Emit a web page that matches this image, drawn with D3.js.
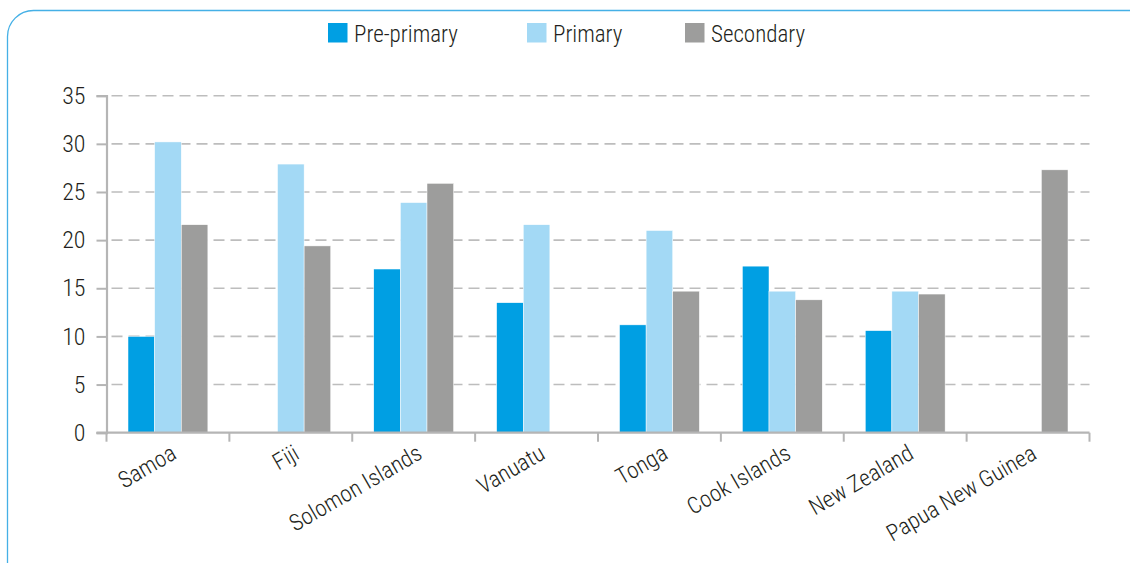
<!DOCTYPE html>
<html>
<head>
<meta charset="utf-8">
<script src="https://cdn.jsdelivr.net/npm/d3@7"></script>
<style>
  html, body { margin: 0; padding: 0; background: #fff; }
  svg { display: block; }
  text { font-family: "Roboto Condensed", "Liberation Sans Narrow", "Open Sans", sans-serif; font-weight: 300; fill: #231f20; }
</style>
</head>
<body>
<svg id="chart" width="1130" height="563"></svg>
<script>
const categories = ["Samoa", "Fiji", "Solomon Islands", "Vanuatu", "Tonga", "Cook Islands", "New Zealand", "Papua New Guinea"];
const seriesNames = ["Pre-primary", "Primary", "Secondary"];
const prePrimary = [10.0, null, 17.0, 13.5, 11.2, 17.3, 10.6, null];
const primary    = [30.2, 27.9, 23.9, 21.6, 21.0, 14.7, 14.7, null];
const secondary  = [21.6, 19.4, 25.9, null, 14.7, 13.8, 14.4, 27.3];
const yTicks = [0, 5, 10, 15, 20, 25, 30, 35];
const colors = ["#009fe3", "#a3d9f5", "#9d9d9c"];

(function () {
const seriesValues = [prePrimary, primary, secondary];
const svg = d3.select("#chart");

// frame
svg.append("rect")
  .attr("x", 7.5).attr("y", 10.5)
  .attr("width", 1160).attr("height", 620)
  .attr("rx", 26).attr("ry", 26)
  .attr("fill", "none")
  .attr("stroke", "#45b0e6").attr("stroke-width", 1.3);

const pLeft = 106.5, pRight = 1089.5, pTop = 95.7, pBottom = 432.7;

const y = d3.scaleLinear().domain([0, 35]).range([pBottom, pTop]);
const x0 = d3.scaleBand().domain(categories).range([pLeft, pRight])
  .paddingInner(0.35).paddingOuter(0.175);
const x1 = d3.scaleBand().domain(seriesNames).range([0, x0.bandwidth()]).padding(0);
const xOuter = d3.scaleBand().domain(categories).range([pLeft, pRight]).padding(0);

// gridlines
svg.append("g").selectAll("line")
  .data(yTicks.filter(d => d > 0))
  .join("line")
  .attr("x1", pLeft + 5).attr("x2", pRight)
  .attr("y1", d => y(d)).attr("y2", d => y(d))
  .attr("stroke", "#bdbdbd").attr("stroke-width", 1.6)
  .attr("stroke-dasharray", "11,6");

// bars
const rows = [];
categories.forEach((c, i) => {
  seriesNames.forEach((s, j) => {
    const v = seriesValues[j][i];
    if (v != null) rows.push({ c, s, v, j });
  });
});
svg.append("g").selectAll("rect")
  .data(rows)
  .join("rect")
  .attr("x", d => x0(d.c) + x1(d.s))
  .attr("width", x1.bandwidth())
  .attr("y", d => y(d.v))
  .attr("height", d => y(0) - y(d.v))
  .attr("fill", d => colors[d.j])
  .attr("stroke", "#ffffff").attr("stroke-width", 0.5);

// y axis
const yAxis = d3.axisLeft(y).tickValues(yTicks).tickSize(10).tickPadding(11);
const gy = svg.append("g").attr("transform", `translate(${pLeft},0)`).call(yAxis);
gy.select(".domain").attr("stroke", "#b5b5b5").attr("stroke-width", 2.2);
gy.selectAll(".tick line").attr("stroke", "#b5b5b5").attr("stroke-width", 2);
gy.selectAll(".tick text")
  .attr("font-size", 24)
  .attr("font-family", '"Roboto Condensed", "Liberation Sans Narrow", sans-serif')
  .attr("font-weight", 300)
  .attr("fill", "#231f20");

// x axis (ticks at category boundaries)
const boundaries = categories.map(c => xOuter(c)).concat([pRight]);
const gx = svg.append("g");
gx.append("line")
  .attr("x1", pLeft - 10).attr("x2", pRight)
  .attr("y1", pBottom).attr("y2", pBottom)
  .attr("stroke", "#b5b5b5").attr("stroke-width", 2.2);
gx.selectAll("line.tk").data(boundaries).join("line")
  .attr("class", "tk")
  .attr("x1", d => d).attr("x2", d => d)
  .attr("y1", pBottom).attr("y2", pBottom + 9)
  .attr("stroke", "#b5b5b5").attr("stroke-width", 2);

gx.selectAll("text").data(categories).join("text")
  .attr("transform", c => {
    const cx = xOuter(c) + xOuter.bandwidth() / 2 + 10;
    return `translate(${cx},${pBottom + 25}) rotate(-30)`;
  })
  .attr("text-anchor", "end")
  .attr("font-size", 23)
  .text(c => c);

// legend
const legendX = [328, 527, 685];
const lg = svg.append("g");
seriesNames.forEach((s, j) => {
  lg.append("rect")
    .attr("x", legendX[j]).attr("y", 23)
    .attr("width", 19.5).attr("height", 19.5)
    .attr("fill", colors[j]);
  lg.append("text")
    .attr("x", legendX[j] + 26).attr("y", 42)
    .attr("font-size", 23)
    .text(s);
});
})();
</script>
</body>
</html>
